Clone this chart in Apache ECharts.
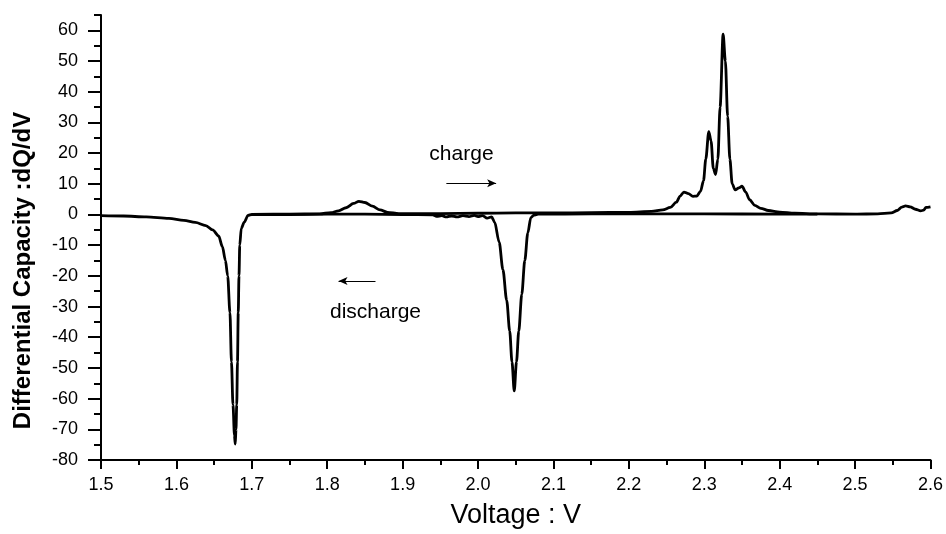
<!DOCTYPE html>
<html>
<head>
<meta charset="utf-8">
<script src="https://cdn.jsdelivr.net/npm/echarts@6/dist/echarts.min.js"></script>
<style>
html,body{margin:0;padding:0;background:#fff;}
#chart{width:946px;height:534px;}
</style>
</head>
<body>
<div id="chart"></div>
<script>
// ---- data ----
var chargeV = [1.700,1.750,1.790,1.805,1.815,1.825,1.835,1.842,1.850,1.860,1.870,1.880,1.895,1.950,2.000,2.050,2.100,2.150,2.200,2.230,2.245,2.255,2.263,2.268,2.273,2.279,2.285,2.290,2.295,2.299,2.302,2.306,2.309,2.312,2.315,2.318,2.321,2.325,2.328,2.331,2.334,2.337,2.341,2.346,2.350,2.355,2.360,2.367,2.375,2.385,2.400,2.420,2.450,2.500,2.530,2.548,2.556,2.562,2.567,2.573,2.580,2.587,2.591,2.594,2.600];
var chargeQ = [0,0.1,0.2,0.6,1.2,2.2,3.6,4.3,3.9,2.7,1.5,0.7,0.3,0.3,0.4,0.5,0.5,0.6,0.7,1.0,1.5,2.3,4.0,6.0,7.3,6.8,5.9,6.0,7.5,11,18,27,24,15,13,18,35,58.8,50,32,18,10,8,8.7,9.2,7.3,4.8,3.0,2.0,1.3,0.8,0.4,0.2,0.1,0.2,0.5,1.3,2.4,2.8,2.5,1.7,1.2,1.4,2.3,2.5];

var dischargeV = [1.500,1.530,1.560,1.590,1.610,1.625,1.639,1.648,1.656,1.661,1.665,1.668,1.671,1.673,1.675,1.677,1.678,1.679,1.680,1.681,1.682,1.683,1.684,1.686,1.690,1.695,1.700,1.750,1.800,1.850,1.900,1.940,1.945,1.952,1.958,1.965,1.972,1.980,1.988,1.995,2.000,2.006,2.012,2.018,2.022,2.028,2.033,2.038,2.042,2.045,2.048,2.051,2.054,2.058,2.062,2.066,2.070,2.074,2.080,2.150,2.200,2.300,2.400,2.450];
var dischargeQ = [-0.4,-0.5,-0.8,-1.3,-1.9,-2.6,-3.6,-5.0,-7.0,-10.5,-15,-20,-32,-48,-62,-72,-74.8,-70,-62,-48,-32,-20,-10,-4.5,-2.5,-0.3,0,0,0.1,0.1,0,-0.1,-0.6,-0.4,-0.8,-0.5,-0.8,-0.4,-0.7,-0.3,-0.7,-0.4,-1.2,-0.8,-2.5,-9,-18,-28,-38,-48,-57.5,-48,-38,-26,-15,-6,-1.0,-0.2,0.1,0.2,0.2,0.2,0.1,0.1];

var yMajorTicks = [-80,-70,-60,-50,-40,-30,-20,-10,0,10,20,30,40,50,60];
var yMinorTicks = [-75,-65,-55,-45,-35,-25,-15,-5,5,15,25,35,45,55,65];

var labels = ['charge', 'discharge'];
var labelV = [1.978, 1.864];
var labelQ = [19.5, -32];
var arrowFromV = [1.958, 1.864];
var arrowToV = [2.024, 1.815];
var arrowQ = [10.2, -21.7];

function pairs(xs, ys){ return xs.map(function(x,i){ return [x, ys[i]]; }); }

var FONT = 'Liberation Sans, Arial, sans-serif';
var chart = echarts.init(document.getElementById('chart'), null, {renderer:'canvas'});

var yAxisCommon = {
  type:'value', min:-80, max:65, gridIndex:0,
  splitLine:{show:false}
};

chart.setOption({
  animation:false,
  backgroundColor:'#fff',
  grid:{left:101, right:14, top:15, bottom:67, containLabel:false},
  xAxis:{
    type:'value', min:1.5, max:2.6, interval:0.1,
    name:'Voltage : V', nameLocation:'middle', nameGap:42,
    nameTextStyle:{fontFamily:FONT, fontSize:27, color:'#000'},
    axisLine:{show:true, onZero:false, lineStyle:{color:'#000', width:2}},
    axisTick:{show:true, inside:false, length:9, lineStyle:{color:'#000', width:2}},
    minorTick:{show:true, splitNumber:2, length:5, lineStyle:{color:'#000', width:2}},
    axisLabel:{fontFamily:FONT, fontSize:18, color:'#000', margin:16,
      formatter:function(v){ return v.toFixed(1); }},
    splitLine:{show:false}
  },
  yAxis:[
    Object.assign({}, yAxisCommon, {
      name:'Differential Capacity :dQ/dV', nameLocation:'middle', nameGap:66,
      nameTextStyle:{fontFamily:FONT, fontSize:24, fontWeight:'bold', color:'#000', padding:[0,66,0,0]},
      axisLine:{show:true, onZero:false, lineStyle:{color:'#000', width:2}},
      axisTick:{show:true, length:13, customValues:yMajorTicks, lineStyle:{color:'#000', width:2}},
      axisLabel:{fontFamily:FONT, fontSize:18, color:'#000', margin:23, customValues:yMajorTicks}
    }),
    Object.assign({}, yAxisCommon, {
      position:'left',
      axisLine:{show:false, onZero:false},
      axisTick:{show:true, length:7, customValues:yMinorTicks, lineStyle:{color:'#000', width:2}},
      axisLabel:{show:false}
    })
  ],
  series:[
    {
      name:'charge', type:'line', yAxisIndex:0,
      data:pairs(chargeV, chargeQ), showSymbol:false, symbol:'none',
      smooth:0.3, smoothMonotone:'x',
      lineStyle:{color:'#000', width:2.8},
      markLine:{
        silent:true, symbol:['none','arrow'], symbolSize:[6,9],
        lineStyle:{color:'#000', width:1, type:'solid'},
        label:{show:false},
        data:[
          [{coord:[arrowFromV[0], arrowQ[0]]},{coord:[arrowToV[0], arrowQ[0]]}],
          [{coord:[arrowFromV[1], arrowQ[1]]},{coord:[arrowToV[1], arrowQ[1]]}]
        ]
      },
      markPoint:{
        silent:true, symbol:'circle', symbolSize:0,
        label:{show:true, position:'inside', color:'#000', fontFamily:FONT, fontSize:21,
          formatter:function(p){ return p.name; }},
        data:labels.map(function(t,i){ return {name:t, coord:[labelV[i], labelQ[i]]}; })
      }
    },
    {
      name:'discharge', type:'line', yAxisIndex:0,
      data:pairs(dischargeV, dischargeQ), showSymbol:false, symbol:'none',
      smooth:0.3, smoothMonotone:'x',
      lineStyle:{color:'#000', width:2.8}
    }
  ]
});
</script>
</body>
</html>
